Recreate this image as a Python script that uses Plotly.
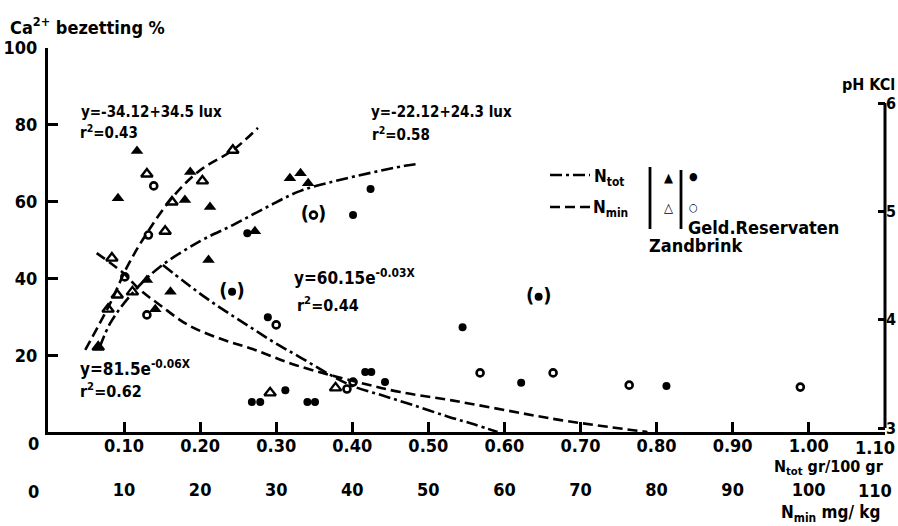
import plotly.graph_objects as go

FONT = "DejaVu Sans Condensed, DejaVu Sans, sans-serif"

# ---------------- data ----------------
# Zandbrink, N_tot (gr/100 gr) vs Ca2+ bezetting %  (filled triangles)
zb_ntot_x = [0.117, 0.092, 0.180, 0.187, 0.213, 0.211, 0.130, 0.161, 0.141, 0.272, 0.318, 0.332, 0.342, 0.066]
zb_ntot_y = [73.2, 60.9, 60.4, 67.7, 58.6, 44.8, 39.6, 36.5, 32.0, 52.3, 66.1, 67.4, 64.8, 22.1]
# Zandbrink, N_min (mg/kg) (open triangles)
zb_nmin_x = [13.0, 20.3, 16.3, 15.4, 8.4, 9.1, 7.9, 11.1, 24.3, 29.2, 37.8, 6.6]
zb_nmin_y = [67.2, 65.4, 59.9, 52.3, 45.3, 35.7, 32.0, 36.5, 73.4, 10.2, 11.5, 22.1]
# Geld. Reservaten, N_tot (filled circles)
gr_ntot_x = [0.262, 0.424, 0.401, 0.242, 0.289, 0.645, 0.545, 0.622, 0.813, 0.268, 0.279, 0.312, 0.341, 0.351, 0.417, 0.425, 0.443]
gr_ntot_y = [51.8, 63.3, 56.5, 36.5, 29.9, 35.2, 27.3, 12.8, 12.0, 7.8, 7.8, 10.9, 7.8, 7.8, 15.6, 15.6, 13.0]
# Geld. Reservaten, N_min (open circles)
gr_nmin_x = [13.9, 13.2, 10.1, 13.0, 30.0, 34.9, 39.3, 40.1, 56.8, 66.4, 76.4, 98.9]
gr_nmin_y = [64.1, 51.3, 40.4, 30.5, 27.9, 56.5, 11.2, 13.0, 15.4, 15.4, 12.2, 11.7]
# points drawn in brackets
brk_ntot_x = [0.242, 0.645]
brk_ntot_y = [36.5, 35.2]
brk_nmin_x = [34.9]
brk_nmin_y = [56.5]

# fitted curves as drawn
log_ntot_x = [0.068, 0.082, 0.111, 0.147, 0.200, 0.243, 0.288, 0.332, 0.393, 0.474, 0.487]
log_ntot_y = [22.1, 28.4, 36.2, 43.0, 49.7, 53.9, 58.6, 62.8, 66.1, 69.5, 69.8]
exp_ntot_x = [0.151, 0.180, 0.210, 0.240, 0.270, 0.300, 0.332, 0.370, 0.400, 0.440, 0.480, 0.526, 0.560, 0.591]
exp_ntot_y = [43.5, 39.0, 34.6, 30.6, 26.8, 23.0, 19.4, 15.0, 12.0, 9.5, 7.0, 4.0, 2.0, 0.0]
log_nmin_x = [4.9, 8.2, 10.4, 13.0, 16.4, 20.0, 24.3, 27.6]
log_nmin_y = [21.4, 33.6, 43.0, 51.8, 61.2, 68.2, 73.4, 79.2]
exp_nmin_x = [6.4, 9.9, 12.1, 14.7, 18.3, 22.5, 26.9, 32.6, 40.7, 46.3, 52.9, 60.1, 67.4, 78.8]
exp_nmin_y = [46.6, 41.4, 37.0, 33.1, 28.0, 24.4, 21.6, 17.4, 13.0, 10.4, 8.3, 5.7, 3.1, 0.0]

ntot_ticks = [0.10, 0.20, 0.30, 0.40, 0.50, 0.60, 0.70, 0.80, 0.90, 1.00, 1.10]
ntot_labels = ["0.10", "0.20", "0.30", "0.40", "0.50", "0.60", "0.70", "0.80", "0.90", "1.00", "1.10"]
nmin_ticks = [10, 20, 30, 40, 50, 60, 70, 80, 90, 100, 110]
nmin_labels = ["10", "20", "30", "40", "50", "60", "70", "80", "90", "100", "110"]
ca_ticks = [20, 40, 60, 80, 100]
ph_ticks = [3, 4, 5, 6]

DASH_DOT = "12px,4px,3px,4px"
DASH = "10px,5px"

fig = go.Figure()

# curves
fig.add_trace(go.Scatter(x=log_ntot_x, y=log_ntot_y, mode="lines", line=dict(color="black", width=2.6, dash=DASH_DOT, shape="spline")))
fig.add_trace(go.Scatter(x=exp_ntot_x, y=exp_ntot_y, mode="lines", line=dict(color="black", width=2.6, dash=DASH_DOT, shape="spline")))
fig.add_trace(go.Scatter(x=log_nmin_x, y=log_nmin_y, xaxis="x2", mode="lines", line=dict(color="black", width=2.6, dash=DASH, shape="spline")))
fig.add_trace(go.Scatter(x=exp_nmin_x, y=exp_nmin_y, xaxis="x2", mode="lines", line=dict(color="black", width=2.6, dash=DASH, shape="spline")))

# points
fig.add_trace(go.Scatter(x=zb_ntot_x, y=zb_ntot_y, mode="markers", marker=dict(symbol="triangle-up", size=11, color="black")))
fig.add_trace(go.Scatter(x=zb_nmin_x, y=zb_nmin_y, xaxis="x2", mode="markers", marker=dict(symbol="triangle-up-open", size=10, color="black", line=dict(width=2.4, color="black"))))
fig.add_trace(go.Scatter(x=gr_ntot_x, y=gr_ntot_y, mode="markers", marker=dict(symbol="circle", size=8, color="black")))
fig.add_trace(go.Scatter(x=gr_nmin_x, y=gr_nmin_y, xaxis="x2", mode="markers", marker=dict(symbol="circle-open", size=7, color="black", line=dict(width=2.6, color="black"))))
fig.add_trace(go.Scatter(x=brk_ntot_x, y=brk_ntot_y, mode="text", text=["(\u2002)"] * len(brk_ntot_x), textfont=dict(family=FONT, size=20, color="black", weight="bold")))
fig.add_trace(go.Scatter(x=brk_nmin_x, y=brk_nmin_y, xaxis="x2", mode="text", text=["(\u2002)"] * len(brk_nmin_x), textfont=dict(family=FONT, size=20, color="black", weight="bold")))

axis_font = dict(family=FONT, size=18, color="black", weight="bold")
ph_font = dict(family=FONT, size=16, color="black", weight="bold")

fig.update_layout(
    width=898, height=526,
    margin=dict(l=48, r=13, t=48, b=36, autoexpand=False),
    paper_bgcolor="white", plot_bgcolor="white",
    showlegend=False,
    font=dict(family=FONT, color="black"),
    xaxis=dict(range=[0, 1.1003], domain=[0, 1], anchor="y",
               tickvals=ntot_ticks, ticktext=ntot_labels[:-1] + [""], tickfont=axis_font,
               ticks="inside", ticklen=10, tickwidth=2.5, tickcolor="black",
               showline=True, linewidth=3, linecolor="black",
               showgrid=False, zeroline=False, ticklabelstandoff=-5),
    xaxis2=dict(range=[0, 110.03], overlaying="x", anchor="free", position=0.03, side="bottom",
                tickvals=nmin_ticks, ticktext=nmin_labels[:-1] + [""], tickfont=axis_font, ticks="",
                showline=False, showgrid=False, zeroline=False),
    yaxis=dict(range=[0, 100.02], domain=[0.1312, 1], anchor="x",
               tickvals=ca_ticks, tickfont=axis_font,
               ticks="inside", ticklen=10, tickwidth=2.5, tickcolor="black",
               showline=True, linewidth=3, linecolor="black",
               showgrid=False, zeroline=False, ticklabelstandoff=4),
    yaxis2=dict(range=[2.963, 6.508], overlaying="y", side="right", anchor="x",
                tickvals=ph_ticks, tickfont=ph_font,
                ticks="inside", ticklen=7, tickwidth=2.5, tickcolor="black",
                showline=False, showgrid=False, zeroline=False, ticklabeloverflow="allow"),
)

# right pH axis line (only from 3 to 6)
fig.add_shape(type="line", xref="paper", yref="y2", x0=1, x1=1, y0=3, y1=6,
              line=dict(color="black", width=3))


def px(xp):
    return (xp - 48) / 837.0


def py(yp):
    return (490 - yp) / 442.0


def ann(text, x, y, size=15, xanchor="left"):
    fig.add_annotation(text=text, xref="paper", yref="paper", x=px(x), y=py(y),
                       xanchor=xanchor, yanchor="middle", showarrow=False,
                       font=dict(family=FONT, size=size, color="black", weight="bold"))


ann("Ca<sup>2+</sup> bezetting %", 8, 26, size=18)
ann("pH KCl", 897, 84, size=16, xanchor="right")
ann("0", 33, 443, size=18, xanchor="center")
ann("0", 33, 491, size=18, xanchor="center")
ann(ntot_labels[-1], 897, 447, size=18, xanchor="right")
ann(nmin_labels[-1], 894, 490, size=18, xanchor="right")
ann("N<sub>tot</sub> gr/100 gr", 886, 467, size=16, xanchor="right")
ann("N<sub>min</sub> mg/ kg", 882, 513, size=17, xanchor="right")

ann("y=-34.12+34.5 lux", 79, 112, size=15)
ann("r<sup>2</sup>=0.43", 78, 132, size=15)
ann("y=-22.12+24.3 lux", 369, 112, size=15)
ann("r<sup>2</sup>=0.58", 370, 134, size=15)
ann("y=60.15e<sup>-0.03X</sup>", 292, 277, size=17)
ann("r<sup>2</sup>=0.44", 295, 305, size=16)
ann("y=81.5e<sup>-0.06X</sup>", 78, 368, size=17)
ann("r<sup>2</sup>=0.62", 78, 390, size=16)

# legend (drawn by hand, as in the original)
fig.add_shape(type="line", xref="paper", yref="paper", x0=px(550), x1=px(590), y0=py(175), y1=py(175),
              line=dict(color="black", width=2.6, dash=DASH_DOT))
fig.add_shape(type="line", xref="paper", yref="paper", x0=px(550), x1=px(590), y0=py(207), y1=py(207),
              line=dict(color="black", width=2.6, dash=DASH))
ann("N<sub>tot</sub>", 592, 178, size=17)
ann("N<sub>min</sub>", 591, 208, size=17)
fig.add_shape(type="line", xref="paper", yref="paper", x0=px(650), x1=px(650), y0=py(167), y1=py(229),
              line=dict(color="black", width=2.8))
fig.add_shape(type="line", xref="paper", yref="paper", x0=px(681), x1=px(681), y0=py(170), y1=py(229),
              line=dict(color="black", width=2.8))
ann("\u25B2", 668, 178, size=13, xanchor="center")
ann("\u25B3", 668, 207, size=13, xanchor="center")
ann("\u25CF", 693, 177, size=11, xanchor="center")
ann("\u25CB", 693, 207, size=11, xanchor="center")
ann("Geld.Reservaten", 686, 227, size=18)
ann("Zandbrink", 647, 246, size=18)

fig.write_html("out.html")
